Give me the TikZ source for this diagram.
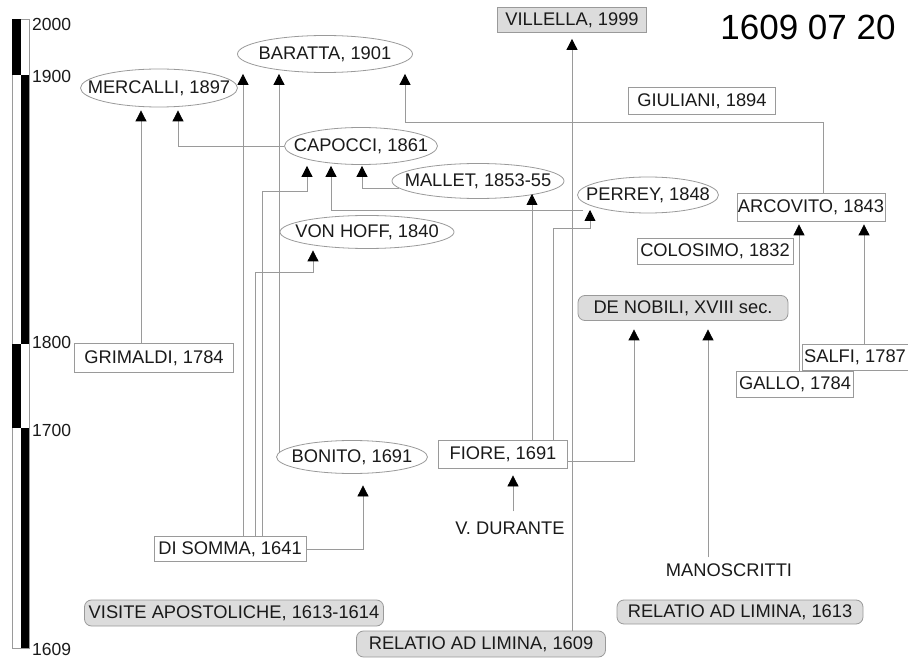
\documentclass[tikz,border=0pt]{standalone}
\usepackage{fontspec}
\setmainfont{Liberation Sans}
\usetikzlibrary{shapes.geometric,arrows.meta,calc}
\definecolor{lgray}{HTML}{9A9A9A}
\definecolor{fgray}{HTML}{DCDCDC}
\definecolor{ink}{HTML}{1A1A1A}
\begin{document}
\begin{tikzpicture}[x=1pt,y=-1pt,
  every node/.style={font=\fontsize{18.3}{21}\selectfont, text=ink},
  ell/.style={ellipse, draw=lgray, line width=0.8pt, fill=white, inner sep=-60pt},
  box/.style={rectangle, draw=lgray, line width=0.8pt, fill=white, inner sep=0pt},
  gbox/.style={box, fill=fgray, rounded corners=7pt},
  plain/.style={inner sep=0pt},
  yr/.style={anchor=west, inner sep=0pt, font=\fontsize{17.5}{20}\selectfont},
  arr/.style={draw=lgray, line width=0.8pt, -{Triangle[length=11pt,width=11pt,color=black]}}]
\useasboundingbox (0,0) rectangle (908,660);
% timeline bar
\draw[lgray, line width=0.8pt] (12,19) rectangle (29,648);
\fill[black] (12,19) rectangle (21,75);
\fill[black] (21,75) rectangle (29,344);
\fill[black] (12,344) rectangle (21,428);
\fill[black] (21,428) rectangle (29,648);
\node[yr] (y2000) at (32,24) {2000};
\node[yr] (y1900) at (32,76) {1900};
\node[yr] (y1800) at (32,342) {1800};
\node[yr] (y1700) at (32,430) {1700};
\node[yr] (y1609) at (32,649) {1609};
% title
\node[font=\fontsize{35}{40}\selectfont, text=black, inner sep=0pt] (title) at (808,27) {1609 07 20};
% ellipses
\node[ell, minimum width=175pt, minimum height=37pt] (baratta) at (325,54) {BARATTA, 1901};
\node[ell, minimum width=157pt, minimum height=38pt] (mercalli) at (159,88) {MERCALLI, 1897};
\node[ell, minimum width=153pt, minimum height=37pt] (capocci) at (361,146) {CAPOCCI, 1861};
\node[ell, minimum width=172pt, minimum height=35pt] (mallet) at (478,181) {MALLET, 1853-55};
\node[ell, minimum width=141pt, minimum height=36pt] (perrey) at (648,195) {PERREY, 1848};
\node[ell, minimum width=174pt, minimum height=33pt] (vonhoff) at (367,232) {VON HOFF, 1840};
\node[ell, minimum width=151pt, minimum height=33pt] (bonito) at (352,457) {BONITO, 1691};
% boxes
\node[box, fill=fgray, minimum width=149pt, minimum height=25pt] (villella) at (572,20) {VILLELLA, 1999};
\node[box, minimum width=147pt, minimum height=27pt] (giuliani) at (702,101) {GIULIANI, 1894};
\node[box, minimum width=148pt, minimum height=28pt] (arcovito) at (811,207) {ARCOVITO, 1843};
\node[box, minimum width=156pt, minimum height=26pt] (colosimo) at (715,251) {COLOSIMO, 1832};
\node[gbox, minimum width=210pt, minimum height=25pt] (denobili) at (683,308) {DE NOBILI, XVIII sec.};
\node[box, minimum width=159pt, minimum height=29pt] (grimaldi) at (154,358) {GRIMALDI, 1784};
\node[box, minimum width=106pt, minimum height=26pt] (salfi) at (855,357) {SALFI, 1787};
\node[box, minimum width=117pt, minimum height=26pt] (gallo) at (795,384) {GALLO, 1784};
\node[box, minimum width=129pt, minimum height=28pt] (fiore) at (503,454) {FIORE, 1691};
\node[box, minimum width=152pt, minimum height=25pt] (disomma) at (230,549) {DI SOMMA, 1641};
\node[plain] (durante) at (510,528) {V. DURANTE};
\node[plain] (manoscritti) at (729,570) {MANOSCRITTI};
\node[gbox, minimum width=299pt, minimum height=26pt] (visite) at (234,613) {VISITE APOSTOLICHE, 1613-1614};
\node[gbox, minimum width=246pt, minimum height=24pt] (rel1613) at (740,612) {RELATIO AD LIMINA, 1613};
\node[gbox, minimum width=249pt, minimum height=26pt] (rel1609) at (481,644) {RELATIO AD LIMINA, 1609};
% connectors
\draw[arr] ($(grimaldi.north)+(-13,0)$) -- ($(mercalli.south)+(-18,3)$);
\draw[arr] (capocci.west) -| ($(mercalli.south)+(19,3)$);
\draw[arr] ($(disomma.north)+(13,0)$) -- ($(baratta.south)+(-82,1)$);
\draw[arr] ($(bonito.center)+(-73,-4)$) -- ($(baratta.south)+(-46,1)$);
\draw[arr] ($(arcovito.north)+(12,0)$) |- ($(giuliani.south)+(0,8)$) -| ($(baratta.south)+(80,1)$);
\draw[arr] ($(disomma.north)+(32,0)$) |- ($(capocci.south)+(-54,27)$) -- ($(capocci.south)+(-54,1)$);
\draw[arr] ($(perrey.center)+(-65,15)$) -| ($(capocci.south)+(-30,1)$);
\draw[arr] ($(mallet.center)+(-79,7)$) -| ($(capocci.south)+(1,1)$);
\draw[arr] ($(disomma.north)+(25,0)$) |- ($(vonhoff.south)+(-54,23.5)$) -- ($(vonhoff.south)+(-54,1.5)$);
\draw[arr] ($(fiore.north)+(29,0)$) -- ($(mallet.center)+(54,13)$);
\draw[arr] ($(fiore.north)+(50,0)$) |- ($(perrey.center)+(-58,33)$) -- ($(perrey.center)+(-58,15)$);
\draw[arr] ($(rel1609.north)+(91,0)$) -- ($(villella.south)+(0,6)$);
\draw[arr] (disomma.east) -| ($(bonito.south)+(11,11.5)$);
\draw[arr] ($(fiore.east)+(0,7)$) -| ($(denobili.south)+(-49,8.5)$);
\draw[arr] ($(manoscritti.north)+(-21,-6)$) -- ($(denobili.south)+(25,8.5)$);
\draw[arr] ($(durante.north)+(3,-10)$) -- ($(fiore.south)+(10,7)$);
\draw[arr] ($(gallo.north)+(4,0)$) -- ($(arcovito.south)+(-12,3)$);
\draw[arr] ($(salfi.north)+(9,0)$) -- ($(arcovito.south)+(53,3)$);
\end{tikzpicture}
\end{document}
